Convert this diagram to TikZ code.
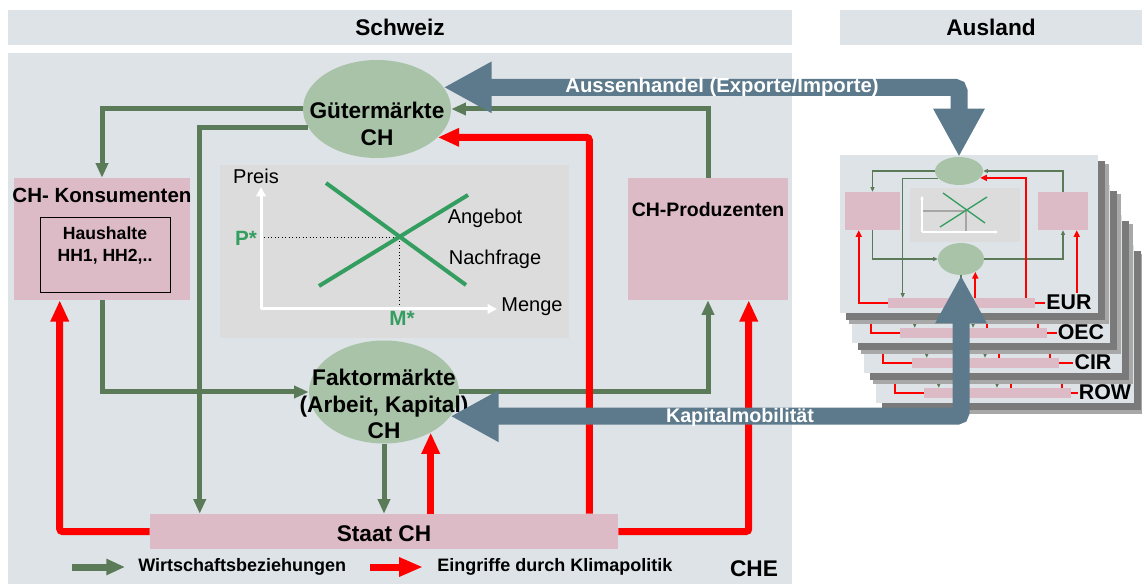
\documentclass[tikz,border=0pt]{standalone}
\usepackage{fontspec}
\setmainfont{Liberation Sans}
\usetikzlibrary{arrows.meta,shapes.geometric,fit,calc}
\definecolor{panel}{HTML}{DDE3E7}
\definecolor{pinkbox}{HTML}{DDBBC6}
\definecolor{ellg}{HTML}{A8C3A8}
\definecolor{cg}{HTML}{5A7A58}
\definecolor{chartbg}{HTML}{DCDCDC}
\definecolor{chg}{RGB}{52,158,96}
\definecolor{blueg}{HTML}{5C7A8C}
\definecolor{cred}{RGB}{255,0,0}
\definecolor{shad}{HTML}{7A7A7A}
\definecolor{shadl}{HTML}{A8A8A8}
\begin{document}
\begin{tikzpicture}[x=0.75pt,y=-0.75pt,
  bg/.style={fill=panel, inner sep=0pt},
  box/.style={fill=pinkbox, inner sep=0pt},
  ell/.style={ellipse, fill=ellg, inner sep=0pt},
  t17/.style={font=\bfseries\fontsize{17pt}{20pt}\selectfont, align=center, inner sep=0pt},
  t15/.style={font=\bfseries\fontsize{15.4pt}{18pt}\selectfont, align=center, inner sep=0pt},
  t15p/.style={font=\bfseries\fontsize{14.6pt}{18pt}\selectfont, align=center, inner sep=0pt},
  t13/.style={font=\bfseries\fontsize{13.2pt}{17pt}\selectfont, align=center, inner sep=0pt},
  ctext/.style={font=\fontsize{15pt}{18pt}\selectfont, inner sep=0pt},
  cstar/.style={font=\bfseries\fontsize{15.5pt}{18pt}\selectfont, text=chg, inner sep=0pt},
  legt/.style={font=\bfseries\fontsize{13.5pt}{16pt}\selectfont, inner sep=0pt, anchor=west},
  wtext/.style={font=\bfseries\fontsize{15.2pt}{18pt}\selectfont, text=white, inner sep=0pt},
  gline/.style={draw=cg, line width=3.75pt, -{Triangle[length=11pt,width=9pt]}},
  rline/.style={draw=cred, line width=5.25pt, rounded corners=2pt, -{Triangle[length=16pt,width=13pt]}},
  axis/.style={draw=white, line width=2.25pt, -{Triangle[length=7pt,width=7pt]}},
  dotline/.style={draw=black, line width=0.6pt, dotted},
  curve/.style={draw=chg, line width=3pt},
  bigarrow/.style={draw=blueg, line width=12.75pt, rounded corners=3pt,
     {Triangle[length=36pt,width=36pt]}-{Triangle[length=36pt,width=36pt]}},
  minig/.style={draw=cg, line width=1pt, -{Triangle[length=3.5pt,width=3pt]}},
  minir/.style={draw=cred, line width=1.6pt, -{Triangle[length=5pt,width=4.5pt]}},
  mbox/.style={fill=pinkbox, inner sep=0pt},
  mell/.style={ellipse, fill=ellg, inner sep=0pt},
  labt/.style={font=\bfseries\fontsize{16pt}{18pt}\selectfont, fill=panel, inner sep=1pt}
]
\useasboundingbox (0,0) rectangle (1142,584);
\fill[white] (0,0) rectangle (1142,584);

% headers and panel
\node[bg, fit={(8,10)(792,45)}] (hs) {};
\node[t17] at (hs.center) {Schweiz};
\node[bg, fit={(840,10)(1142,45)}] (ha) {};
\node[t17] at (ha.center) {Ausland};
\node[bg, fit={(8,53)(792,584)}] (pan) {};

% supply-demand chart
\node[fill=chartbg, inner sep=0pt, fit={(220,165)(569,338)}] (chart) {};
\coordinate (o) at (261,309);
\coordinate (ytip) at (261,187);
\coordinate (xtip) at (497,309);
\coordinate (eq) at (399,237);
\coordinate (s1) at (319,286);
\coordinate (s2) at (468,195);
\coordinate (d1) at (326,183);
\coordinate (d2) at (466,285);
\draw[dotline] (eq -| o) -- (eq) -- (eq |- o);
\draw[axis] (o) -- (ytip);
\draw[axis] (o) -- (xtip);
\draw[curve] (s1) -- (s2);
\draw[curve] (d1) -- (d2);
\node[ctext] (preis) at (256,176) {Preis};
\node[ctext] (menge) at (532,307) {Menge};
\node[ctext] (angebot) at (485,218) {Angebot};
\node[ctext] (nachfrage) at (495,259) {Nachfrage};
\node[cstar] (pstar) at (246,238) {P*};
\node[cstar] (mstar) at (402,318) {M*};

% markets
\node[ell, minimum width=111pt, minimum height=73.5pt] (gm) at (377,109) {};
\node[t17] (gmtext) at (377,124) {Gütermärkte\\CH};
\node[ell, minimum width=112.5pt, minimum height=77.25pt] (fm) at (384,392) {};
\node[t17] (fmtext) at (384,404) {Faktormärkte\\(Arbeit, Kapital)\\CH};

% agents
\node[box, fit={(14,178)(190,300)}] (kons) {};
\node[t15] (konstext) at (102,195) {CH- Konsumenten};
\node[draw=black, line width=0.75pt, inner sep=0pt, fit={(40,218)(170,293)}] (hh) {};
\node[t13] (hhtext) at (105,245.5) {Haushalte\\HH1, HH2,..};
\node[box, fit={(628,178)(788,300)}] (prod) {};
\node[t15p] (prodtext) at (708,210) {CH-Produzenten};
\node[box, fit={(150,514)(618,549)}] (staat) {};
\node[t17] (staattext) at (384,534) {Staat CH};

% green economic relations
\draw[gline] (gm.west) -| (kons.north);
\draw[gline] (gm.195) -| ($(staat.north west)+(50,0)$);
\draw[gline] (prod.north) |- (gm.east);
\draw[gline] (kons.south) |- (fm.west);
\draw[gline] (fm.east) -| (prod.south);
\draw[gline] (fm.south) -- (fm.south |- staat.north);

% red climate policy
\draw[rline] (staat.west) -| ($(kons.south west)+(46,0)$);
\draw[rline] (fm.-41 |- staat.north) -- (fm.-41);
\draw[rline] ($(staat.north east)+(-29,0)$) |- (gm.-25);
\draw[rline] (staat.east) -| ($(prod.south west)+(121,0)$);

% legend
\coordinate (lg1) at (72,567);
\coordinate (lg2) at (125,567);
\coordinate (lr1) at (370,567);
\coordinate (lr2) at (423,567);
\draw[draw=cg, line width=5.25pt, -{Triangle[length=14pt,width=11.5pt]}] (lg1) -- (lg2);
\node[legt] (legg) at (138,567) {Wirtschaftsbeziehungen};
\draw[draw=cred, line width=5.25pt, -{Triangle[length=18pt,width=13.5pt]}] (lr1) -- (lr2);
\node[legt] (legr) at (437,567) {Eingriffe durch Klimapolitik};
\node[t17] (che) at (754,569) {CHE};

% foreign regions (stacked model cards)
\foreach \i/\lab in {3/ROW,2/CIR,1/OEC,0/EUR}{
\begin{scope}[shift={(12*\i,30*\i)}]
  \fill[shadl] (849,164) rectangle (1109,324);
  \fill[shad] (846,161) rectangle (1105,320);
  \node[bg, fit={(840,155)(1098,313)}] (card\i) {};
  \node[mbox, fit={(845,192)(900,230)}] (ml\i) {};
  \node[mbox, fit={(1038,192)(1088,230)}] (mr\i) {};
  \node[fill=chartbg, inner sep=0pt, fit={(910,188)(1020,242)}] (mc\i) {};
  \draw[gray!70, line width=0.9pt] (922,211) -- (966,211) -- (966,232);
  \draw[white, line width=0.8pt, -{Triangle[length=2.5pt,width=2.5pt]}] (922,232) -- (922,196);
  \draw[white, line width=0.8pt, -{Triangle[length=2.5pt,width=2.5pt]}] (922,232) -- (998,232);
  \draw[chg, line width=1pt] (940,227) -- (987,197);
  \draw[chg, line width=1pt] (943,193) -- (985,223);
  \node[mell, minimum width=36pt, minimum height=21pt] (t\i) at (959,171) {};
  \node[mell, minimum width=34.5pt, minimum height=24pt] (b\i) at (961,259) {};
  \node[mbox, fit={(888,298)(1035,308)}] (ms\i) {};
  \draw[minig] (t\i.west) -| (ml\i.north);
  \draw[minig] (t\i.200) -| ($(ms\i.north west)+(15,0)$);
  \draw[minig] (mr\i.north) |- (t\i.east);
  \draw[minig] (ml\i.south) |- (b\i.west);
  \draw[minig] (b\i.east) -| (mr\i.south);
  \draw[minig] (b\i.south) -- (b\i.south |- ms\i.north);
  \draw[minir] (ms\i.west) -| ($(ml\i.south west)+(14,0)$);
  \draw[minir] (b\i.-42 |- ms\i.north) -- (b\i.-42);
  \draw[minir] ($(ms\i.north west)+(138,0)$) |- (t\i.-18);
  \draw[minir] (ms\i.east) -| ($(mr\i.south west)+(39,0)$);
  \node[labt] (lab\i) at (1069,302) {\lab};
\end{scope}
}

% big flows
\draw[bigarrow] (gm.18) -- (gm.18 -| t0.north) -- (t0.north);
\node[wtext] (aussen) at (722,87) {Aussenhandel (Exporte/Importe)};
\draw[bigarrow] (b0.south) -- (b0.south |- fm.-20) -- (fm.-20);
\node[wtext, font=\bfseries\fontsize{14.8pt}{18pt}\selectfont] (kapital) at (740,417) {Kapitalmobilität};
\end{tikzpicture}
\end{document}
